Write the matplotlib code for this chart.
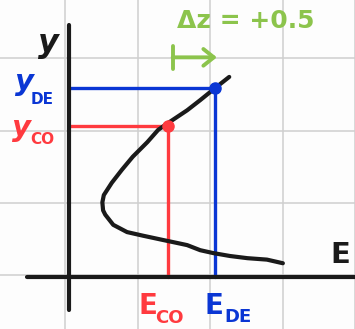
import matplotlib
matplotlib.use("Agg")
import matplotlib.pyplot as plt

# Energy/height profile (E, y)
curve_E = [2.95, 2.73, 2.46, 2.22, 1.99, 1.81, 1.63, 1.49, 1.30, 1.02, 0.80, 0.61, 0.50,
           0.47, 0.46, 0.48, 0.59, 0.73, 0.88, 1.08, 1.23, 1.36, 1.63, 1.81, 2.02, 2.21]
curve_y = [0.19, 0.24, 0.26, 0.29, 0.33, 0.37, 0.44, 0.47, 0.51, 0.57, 0.62, 0.72, 0.86,
           0.92, 1.03, 1.13, 1.30, 1.48, 1.66, 1.86, 2.03, 2.12, 2.30, 2.44, 2.61, 2.76]

# Operating points
E_CO, y_CO = 1.36, 2.08
E_DE, y_DE = 2.02, 2.61
dz_start = 1.43
dz_label = "Δz = +0.5"

RED = "#ff3a3f"
BLUE = "#0a36d4"
GREEN = "#8cc44c"
INK = "#1a1a1a"

fig = plt.figure(figsize=(3.55, 3.29), dpi=100)
fig.patch.set_facecolor("#fdfdfd")
ax = fig.add_axes([0, 0, 1, 1])
ax.set_facecolor("#fdfdfd")
ax.set_xlim(-0.952, 3.945)
ax.set_ylim(-0.717, 3.821)
ax.axis("off")

# paper grid
for gx in [-0.055, 0.95, 1.95, 2.95, 3.95]:
    ax.axvline(gx, color="#cfcfcf", lw=1.1, zorder=0)
for gy in [0.03, 1.02, 2.02, 3.02]:
    ax.axhline(gy, color="#cfcfcf", lw=1.1, zorder=0)

# axes
ax.plot([-0.58, 3.95], [0.0, 0.0], color=INK, lw=3.0, solid_capstyle="round", zorder=3)
ax.plot([0.0, 0.0], [-0.45, 3.47], color=INK, lw=3.0, solid_capstyle="round", zorder=3)

# guide lines to the operating points
ax.plot([0.0, E_CO, E_CO], [y_CO, y_CO, 0.0], color=RED, lw=2.4,
        solid_capstyle="round", solid_joinstyle="round", zorder=2)
ax.plot([0.0, E_DE, E_DE], [y_DE, y_DE, 0.0], color=BLUE, lw=2.4,
        solid_capstyle="round", solid_joinstyle="round", zorder=2)

# curve
ax.plot(curve_E, curve_y, color=INK, lw=3.0, solid_capstyle="round",
        solid_joinstyle="round", zorder=4)

ax.plot([E_CO], [y_CO], "o", color=RED, ms=8, zorder=5)
ax.plot([E_DE], [y_DE], "o", color=BLUE, ms=8, zorder=5)

# shift arrow: start bar plus open arrow
arrow_y = 3.03
ax.plot([dz_start, dz_start], [arrow_y - 0.16, arrow_y + 0.16], color=GREEN, lw=2.8,
        solid_capstyle="round", zorder=5)
ax.annotate("", xy=(E_DE + 0.02, arrow_y), xytext=(dz_start, arrow_y),
            arrowprops=dict(arrowstyle="->,head_length=0.75,head_width=0.6",
                            color=GREEN, lw=2.8, shrinkA=0, shrinkB=0,
                            capstyle="round", joinstyle="round"), zorder=5)
ax.text(2.44, 3.53, dz_label, color=GREEN, fontsize=18, fontweight="bold",
        ha="center", va="center")

# axis titles
ax.text(-0.29, 3.22, "y", color=INK, fontsize=23, fontweight="bold",
        style="italic", ha="center", va="center")
ax.text(3.74, 0.31, "E", color=INK, fontsize=21, fontweight="bold",
        ha="center", va="center")

# point labels
ax.text(-0.61, y_DE + 0.08, "y", color=BLUE, fontsize=21, fontweight="bold",
        style="italic", ha="center", va="center")
ax.text(-0.37, y_DE - 0.16, "DE", color=BLUE, fontsize=11, fontweight="bold",
        ha="center", va="center")
ax.text(-0.65, y_CO - 0.02, "y", color=RED, fontsize=21, fontweight="bold",
        style="italic", ha="center", va="center")
ax.text(-0.37, y_CO - 0.19, "CO", color=RED, fontsize=11, fontweight="bold",
        ha="center", va="center")

ax.text(1.09, -0.40, "E", color=RED, fontsize=20, fontweight="bold",
        ha="center", va="center")
ax.text(1.39, -0.56, "CO", color=RED, fontsize=13, fontweight="bold",
        ha="center", va="center")
ax.text(2.00, -0.40, "E", color=BLUE, fontsize=20, fontweight="bold",
        ha="center", va="center")
ax.text(2.33, -0.55, "DE", color=BLUE, fontsize=13, fontweight="bold",
        ha="center", va="center")

fig.savefig("out.png", dpi=100, facecolor=fig.get_facecolor())
